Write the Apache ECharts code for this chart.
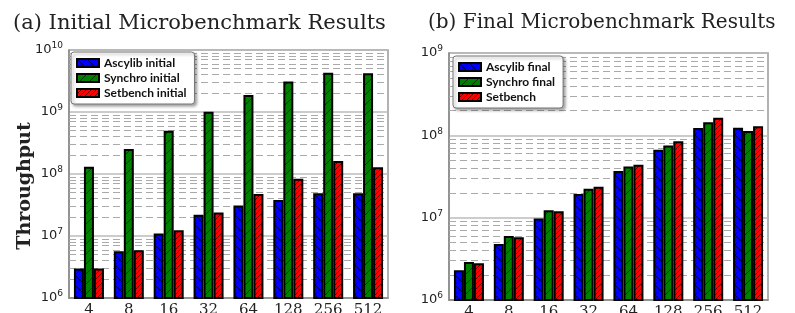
<!DOCTYPE html>
<html>
<head>
<meta charset="utf-8">
<script src="https://cdn.jsdelivr.net/npm/echarts@6/dist/echarts.min.js"></script>
<style>
  html, body { margin: 0; padding: 0; background: #fff; }
  #chart { width: 795px; height: 313px; }
</style>
</head>
<body>
<div id="chart"></div>
<script>
// thread counts
const threads = ['4', '8', '16', '32', '64', '128', '256', '512'];

// (a) initial
const ascylibInitial = [3.0e6, 5.7e6, 1.1e7, 2.2e7, 3.1e7, 3.8e7, 4.9e7, 4.9e7];
const synchroInitial = [1.31e8, 2.53e8, 5.0e8, 1.01e9, 1.88e9, 3.1e9, 4.3e9, 4.2e9];
const setbenchInitial = [3.0e6, 5.9e6, 1.24e7, 2.4e7, 4.75e7, 8.4e7, 1.62e8, 1.28e8];

// (b) final
const ascylibFinal = [2.3e6, 4.8e6, 9.8e6, 1.94e7, 3.7e7, 6.7e7, 1.23e8, 1.24e8];
const synchroFinal = [2.9e6, 6.0e6, 1.23e7, 2.25e7, 4.17e7, 7.5e7, 1.44e8, 1.13e8];
const setbenchFinal = [2.8e6, 5.8e6, 1.2e7, 2.38e7, 4.4e7, 8.5e7, 1.64e8, 1.29e8];

// minor grid lines (2..9 x each decade)
const minorLeft = [];
const minorRight = [];
for (let d = 6; d < 10; d++) {
  for (let m = 2; m < 10; m++) {
    minorLeft.push(m * Math.pow(10, d));
    if (d < 9) minorRight.push(m * Math.pow(10, d));
  }
}

function hatch(color, step, cross) {
  const c = document.createElement('canvas');
  c.width = c.height = step;
  const g = c.getContext('2d');
  g.fillStyle = color;
  g.fillRect(0, 0, step, step);
  g.strokeStyle = 'rgba(0,0,0,0.75)';
  g.lineWidth = 0.8;
  g.beginPath();
  g.moveTo(-1, step + 1); g.lineTo(step + 1, -1);
  if (cross) { g.moveTo(-1, -1); g.lineTo(step + 1, step + 1); }
  g.stroke();
  return c;
}

const blueFill = { image: hatch('#0000ff', 10, true), repeat: 'repeat' };
const greenFill = { image: hatch('#007f00', 10, false), repeat: 'repeat' };
const redFill = { image: hatch('#ff0000', 5, false), repeat: 'repeat' };

const chart = echarts.init(document.getElementById('chart'));

const supLabel = {
  fontFamily: 'DejaVu Sans',
  fontSize: 13,
  color: '#222',
  formatter: (v) => '10{s|' + Math.round(Math.log10(v)) + '}',
  rich: { s: { fontSize: 9, fontFamily: 'DejaVu Sans', color: '#222', padding: [0, 0, 8, 0] } },
};

function yAxis(idx, max) {
  return {
    type: 'log', gridIndex: idx, logBase: 10, min: 1e6, max,
    axisLine: { show: true, lineStyle: { color: '#888', width: 1.5 } },
    axisTick: { show: false },
    axisLabel: { ...supLabel, margin: 6 },
    splitLine: { show: true, lineStyle: { color: '#bbb', width: 1.5 } },
    minorTick: { show: false },
    minorSplitLine: { show: false },
  };
}

function xAxis(idx) {
  return {
    type: 'category', gridIndex: idx, data: threads,
    axisLine: { show: true, lineStyle: { color: '#888', width: 1.5 } },
    axisTick: { show: true, inside: true, alignWithLabel: true, length: 4, lineStyle: { color: '#666' } },
    axisLabel: { fontFamily: 'DejaVu Serif', fontSize: 15, color: '#222', margin: 5 },
    splitLine: { show: false },
  };
}

function bar(name, data, fill, idx) {
  return {
    name, type: 'bar', xAxisIndex: idx, yAxisIndex: idx, data,
    barWidth: 10, barGap: '0%', z: 3,
    itemStyle: { color: fill, borderColor: '#000', borderWidth: 2 },
  };
}

function minorLines(idx, values) {
  return {
    type: 'line', xAxisIndex: idx, yAxisIndex: idx, data: [], z: 1, silent: true,
    markLine: {
      silent: true, symbol: 'none', label: { show: false }, z: 1,
      lineStyle: { color: '#aaa', type: [7, 4], width: 1 },
      data: values.map((v) => ({ yAxis: v })),
      animation: false,
    },
  };
}

function legend(names, left, top) {
  return {
    data: names, left, top, orient: 'vertical', icon: 'rect',
    itemWidth: 22, itemHeight: 8, itemGap: 3,
    padding: [5, 8, 5, 5],
    backgroundColor: '#fff', borderColor: '#777', borderWidth: 1, borderRadius: 3,
    shadowBlur: 3, shadowOffsetX: 2, shadowOffsetY: 2, shadowColor: 'rgba(0,0,0,0.35)',
    textStyle: { fontFamily: 'Lato', fontWeight: 'bold', fontSize: 12, color: '#111' },
  };
}

chart.setOption({
  animation: false,
  backgroundColor: '#fff',
  title: [
    { text: '(a) Initial Microbenchmark Results', left: 8, top: 8,
      textStyle: { fontFamily: 'DejaVu Serif', fontWeight: 'normal', fontSize: 21, color: '#222' } },
    { text: '(b) Final Microbenchmark Results', left: 423, top: 8,
      textStyle: { fontFamily: 'DejaVu Serif', fontWeight: 'normal', fontSize: 20, color: '#222' } },
  ],
  graphic: [{
    type: 'text', x: 25, y: 186, rotation: Math.PI / 2,
    style: { text: 'Throughput', fontFamily: 'DejaVu Serif', fontWeight: 'bold', fontSize: 19,
      fill: '#222', align: 'center', verticalAlign: 'middle' },
  }],
  legend: [
    legend(['Ascylib initial', 'Synchro initial', 'Setbench initial'], 71, 52),
    legend(['Ascylib final', 'Synchro final', 'Setbench'], 453, 56),
  ],
  grid: [
    { left: 69, right: 407, top: 50, bottom: 15, outerBoundsMode: 'none', containLabel: false,
      show: true, borderColor: '#999', borderWidth: 1.5, backgroundColor: '#fff' },
    { left: 449, right: 27, top: 53, bottom: 13, outerBoundsMode: 'none', containLabel: false,
      show: true, borderColor: '#999', borderWidth: 1.5, backgroundColor: '#fff' },
  ],
  xAxis: [xAxis(0), xAxis(1)],
  yAxis: [yAxis(0, 1e10), yAxis(1, 1e9)],
  series: [
    minorLines(0, minorLeft),
    minorLines(1, minorRight),
    bar('Ascylib initial', ascylibInitial, blueFill, 0),
    bar('Synchro initial', synchroInitial, greenFill, 0),
    bar('Setbench initial', setbenchInitial, redFill, 0),
    bar('Ascylib final', ascylibFinal, blueFill, 1),
    bar('Synchro final', synchroFinal, greenFill, 1),
    bar('Setbench', setbenchFinal, redFill, 1),
  ],
});
</script>
</body>
</html>
